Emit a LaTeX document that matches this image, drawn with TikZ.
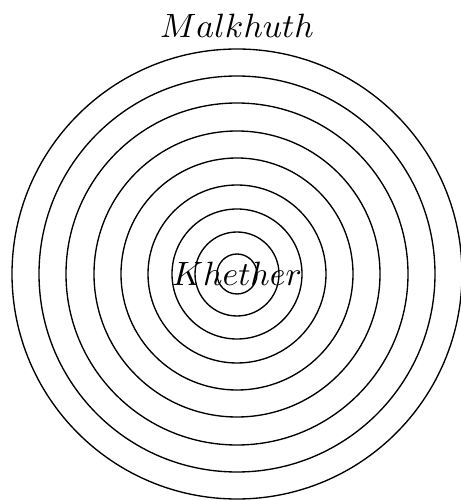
\documentclass[tikz,border=0pt]{standalone}
\usepackage{tikz}

\begin{document}
\begin{tikzpicture}[
  x=0.2967pt, y=0.2967pt,
  ring/.style={draw=black, line width=0.4pt},
  sefira/.style={inner sep=0pt, font=\normalsize},
]
\useasboundingbox (0,0) rectangle (460,500);

% --- Centro ---
\node[sefira] (khether) at (237,226) {$Khether$};

% --- Anillos ---
\foreach \r in {20,42,65,89,116,143,171,198,225}
  \draw[ring] (khether.center) circle (\r);

% --- Exterior ---
\node[sefira] (malkhuth) at (237,474) {$Malkhuth$};

\end{tikzpicture}
\end{document}
